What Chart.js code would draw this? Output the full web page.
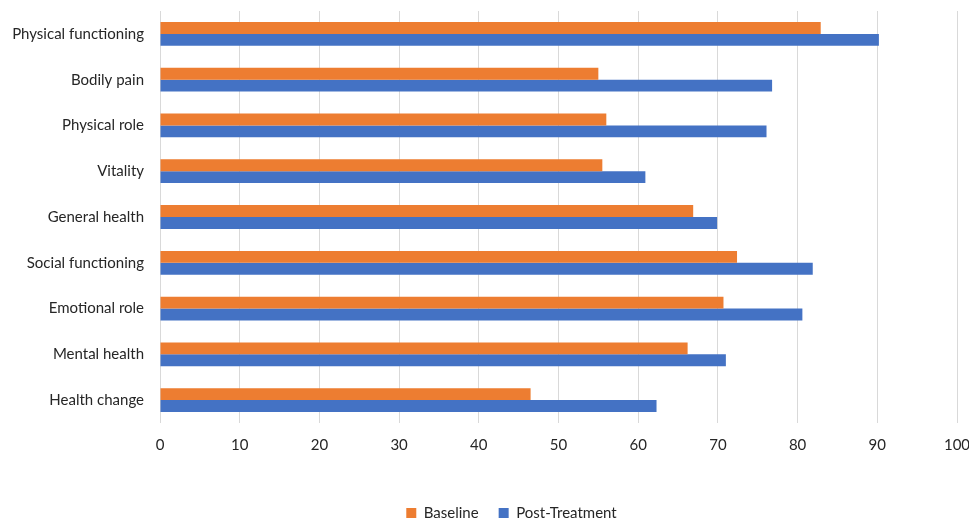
<!DOCTYPE html>
<html>
<head>
<meta charset="utf-8">
<script src="https://cdn.jsdelivr.net/npm/chart.js@4"></script>
<style>
  html, body { margin: 0; padding: 0; background: #ffffff; overflow: hidden; }
  #wrap { width: 969px; height: 520px; position: relative; }
</style>
</head>
<body>
<div id="wrap"><canvas id="chart"></canvas></div>
<script>
// SF-36 domain scores, before and after treatment
const domains = [
  'Physical functioning', 'Bodily pain', 'Physical role', 'Vitality',
  'General health', 'Social functioning', 'Emotional role', 'Mental health',
  'Health change'
];
const baseline      = [82.9, 55.0, 56.0, 55.5, 66.9, 72.4, 70.7, 66.2, 46.5];
const postTreatment = [90.2, 76.8, 76.1, 60.9, 69.9, 81.9, 80.6, 71.0, 62.3];
const xTicks = [0, 10, 20, 30, 40, 50, 60, 70, 80, 90, 100];

const FONT = 'Lato, "Open Sans", sans-serif';
const TEXT = '#262626';

// Fixed-height legend strip along the bottom edge, nudged right
const legendPlacement = {
  id: 'legendPlacement',
  beforeInit(chart) {
    const legend = chart.legend;
    if (!legend) return;
    const origFit = legend.fit.bind(legend);
    legend.fit = function () {
      origFit();
      this.height = 34.5;
    };
  },
  afterLayout(chart) {
    const legend = chart.legend;
    if (!legend) return;
    legend.left += 33;
    legend.right += 33;
  }
};

new Chart(document.getElementById('chart'), {
  type: 'bar',
  data: {
    labels: domains,
    datasets: [
      { label: 'Baseline', data: baseline, backgroundColor: '#ED7D31', borderWidth: 0 },
      { label: 'Post-Treatment', data: postTreatment, backgroundColor: '#4472C4', borderWidth: 0 }
    ]
  },
  plugins: [legendPlacement],
  options: {
    indexAxis: 'y',
    responsive: true,
    maintainAspectRatio: false,
    animation: false,
    categoryPercentage: 0.52,
    barPercentage: 1.0,
    layout: { padding: { top: 11, left: 0, right: 12, bottom: 0 } },
    scales: {
      x: {
        min: 0,
        max: 100,
        afterBuildTicks(scale) { scale.ticks = xTicks.map(v => ({ value: v })); },
        afterFit(scale) {
          scale.height = 62.5;
          scale.paddingLeft = 0;
          scale.paddingRight = 0;
        },
        grid: { color: '#d9d9d9', lineWidth: 1, drawTicks: false },
        border: { display: false },
        ticks: {
          padding: 13,
          color: TEXT,
          maxRotation: 0,
          font: { family: FONT, size: 15 }
        }
      },
      y: {
        afterFit(scale) {
          scale.width = 160;
          scale.paddingTop = 0;
          scale.paddingBottom = 0;
        },
        grid: { display: false, drawTicks: false },
        border: { display: false },
        ticks: {
          padding: 16,
          color: TEXT,
          font: { family: FONT, size: 15 }
        }
      }
    },
    plugins: {
      legend: {
        position: 'bottom',
        labels: {
          boxWidth: 10,
          boxHeight: 10,
          padding: 20,
          color: TEXT,
          font: { family: FONT, size: 15 }
        }
      },
      tooltip: { enabled: false }
    }
  }
});
</script>
</body>
</html>
